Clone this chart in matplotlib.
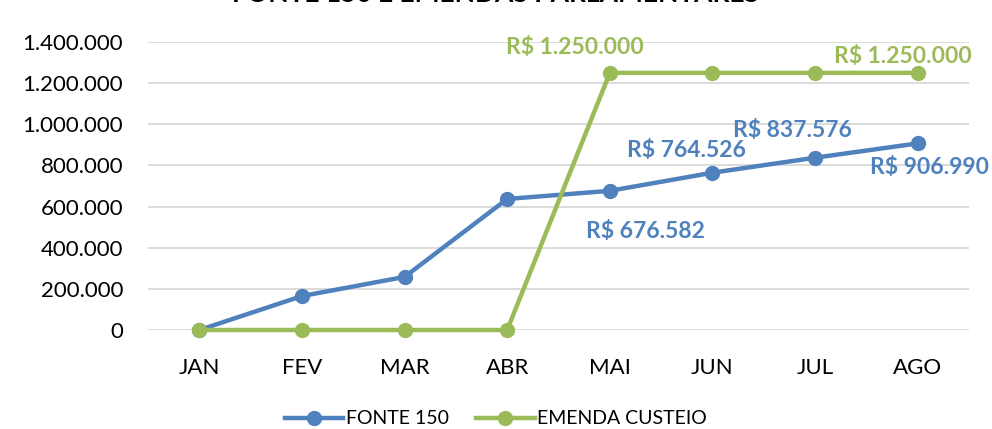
import matplotlib
matplotlib.use("Agg")
import matplotlib.pyplot as plt
from matplotlib.ticker import FuncFormatter

months = ["JAN", "FEV", "MAR", "ABR", "MAI", "JUN", "JUL", "AGO"]
fonte150 = [0, 165000, 258000, 637000, 676582, 764526, 837576, 906990]
emenda = [0, 0, 0, 0, 1250000, 1250000, 1250000, 1250000]
yticks = [0, 200000, 400000, 600000, 800000, 1000000, 1200000, 1400000]
title = "FONTE 150 E EMENDAS PARLAMENTARES"

blue = "#4F81BD"
green = "#9BBB59"
plt.rcParams['font.family'] = ['Lato', 'DejaVu Sans']

fig = plt.figure(figsize=(9.92, 4.29), dpi=100)
ax = fig.add_axes([148/992, 1-330/429, (969-148)/992, (330-42)/429])

x = list(range(len(months)))
ax.plot(x, fonte150, color=blue, lw=3.2, marker='o', ms=10, label="FONTE 150", clip_on=False, zorder=3)
ax.plot(x, emenda, color=green, lw=3.2, marker='o', ms=10, label="EMENDA CUSTEIO", clip_on=False, zorder=4)

ax.set_xlim(-0.5, len(months)-0.5)
ax.set_ylim(0, 1400000)
ax.set_yticks(yticks)
ax.yaxis.set_major_formatter(FuncFormatter(lambda v, p: f"{int(v):,}".replace(",", ".")))
ax.set_xticks(x)
ax.set_xticklabels(months)
ax.tick_params(axis='both', length=0, labelsize=16, colors='black')
ax.tick_params(axis='y', pad=18)
ax.tick_params(axis='x', pad=20)
ax.grid(axis='y', color='#D9D9D9', lw=1.3)
ax.set_axisbelow(True)
for s in ax.spines.values():
    s.set_visible(False)

def fmt(v):
    return "R$ " + f"{int(v):,}".replace(",", ".")

lab = dict(fontsize=16.5, fontweight='bold', ha='center', va='center', textcoords='offset points')
ax.annotate(fmt(emenda[4]), (4, emenda[4]), xytext=(-25, 18.5), color=green, **lab)
ax.annotate(fmt(emenda[7]), (7, emenda[7]), xytext=(-11, 11.5), color=green, **lab)
ax.annotate(fmt(fonte150[4]), (4, fonte150[4]), xytext=(26, -29), color=blue, **lab)
ax.annotate(fmt(fonte150[5]), (5, fonte150[5]), xytext=(-19, 16), color=blue, **lab)
ax.annotate(fmt(fonte150[6]), (6, fonte150[6]), xytext=(-16.5, 19.5), color=blue, **lab)
ax.annotate(fmt(fonte150[7]), (7, fonte150[7]), xytext=(8.5, -17), color=blue, **lab)

fig.text(0.5, 1-6/429, title, ha='center', va='bottom', fontsize=19, fontweight='bold')

fig.legend(loc='center', bbox_to_anchor=(0.5, 1-419/429), ncol=2, frameon=False,
           fontsize=14, handlelength=3.0, columnspacing=1.4, handletextpad=0.15)

fig.savefig("out.png", dpi=100)
